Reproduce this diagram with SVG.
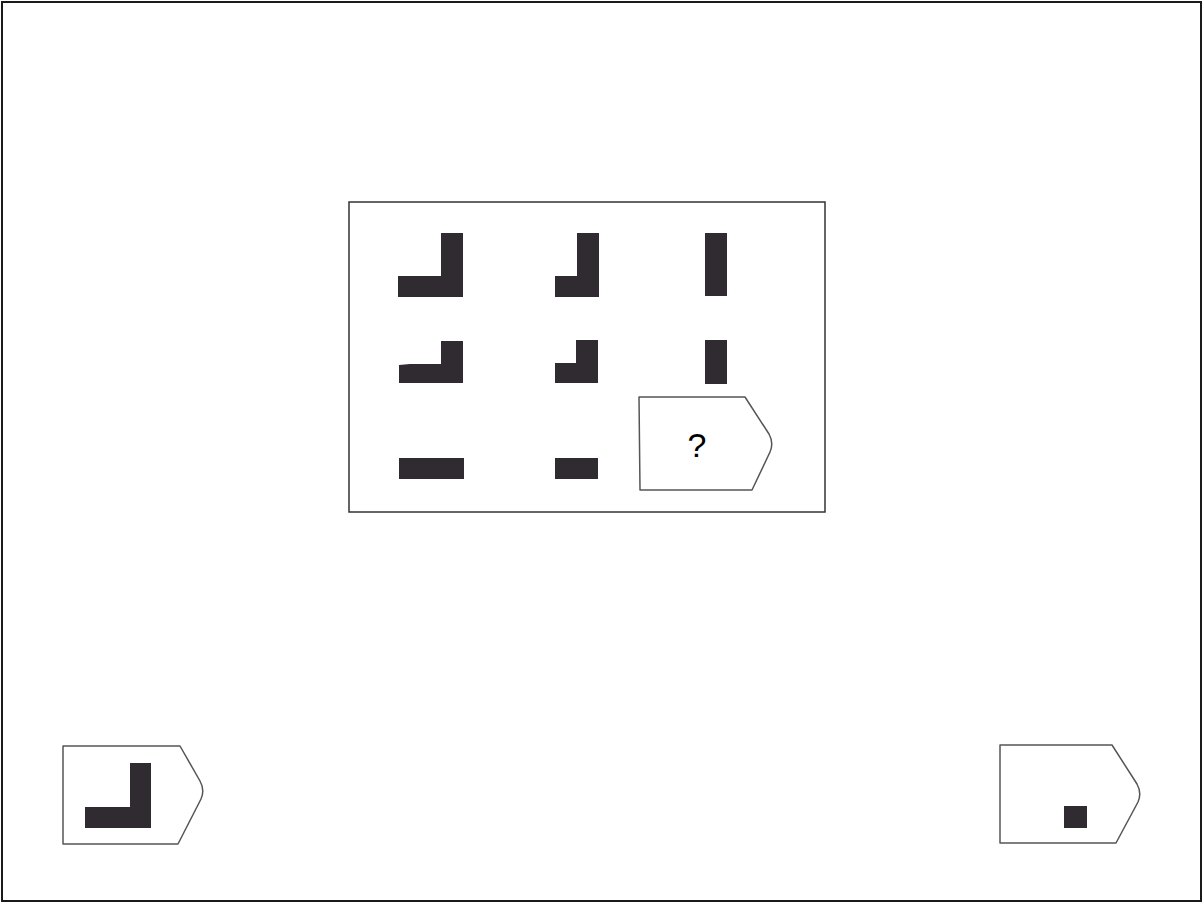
<svg xmlns="http://www.w3.org/2000/svg" width="1204" height="904" viewBox="0 0 1204 904">
<style>
.frame{fill:none;stroke:#1a1a1a;stroke-width:2}
.box{fill:none;stroke:#333;stroke-width:1.5}
.tag{fill:#fff;stroke:#555;stroke-width:1.5;stroke-linejoin:round}
.blk{fill:#2f2b30}
.q{font-family:"Liberation Sans",Arial,sans-serif;font-size:34px;fill:#000;text-anchor:middle}
</style>
<rect x="0" y="0" width="1204" height="904" fill="#fff"/>
<rect class="frame" x="2" y="2" width="1199" height="899"/>
<g id="matrix">
<rect class="box" x="349" y="202" width="476" height="310"/>
<g id="cell-1-1"><path class="blk" d="M441 233 H463 V297 H398 V276 H441 Z"/></g>
<g id="cell-1-2"><path class="blk" d="M577 233 H599 V297 H555 V276 H577 Z"/></g>
<g id="cell-1-3"><rect class="blk" x="705" y="233" width="22" height="63"/></g>
<g id="cell-2-1"><path class="blk" d="M441 341 H463 V383 H399 V365 L410 364 H441 Z"/></g>
<g id="cell-2-2"><path class="blk" d="M576 340 H598 V383 H555 V363 H576 Z"/></g>
<g id="cell-2-3"><rect class="blk" x="705" y="340" width="22" height="44"/></g>
<g id="cell-3-1"><rect class="blk" x="399" y="458" width="65" height="21"/></g>
<g id="cell-3-2"><rect class="blk" x="555" y="458" width="43" height="21"/></g>
<g id="cell-3-3">
<path class="tag" d="M639 397 H745 L769 434 Q774 443 770 452 L752 490 H640 Z"/>
<text class="q" x="697" y="457">?</text>
</g>
</g>
<g id="option-a">
<path class="tag" d="M63 746 H180 L200 781 Q205 790 201 799 L178 844 H63 Z"/>
<path class="blk" d="M130 763 H151 V828 H85 V807 H130 Z"/>
</g>
<g id="option-b">
<path class="tag" d="M1000 745 H1112 L1137 784 Q1142 793 1138 802 L1116 843 H1000 Z"/>
<rect class="blk" x="1064" y="806" width="23" height="22"/>
</g>
<g id="connectors"/>
</svg>
